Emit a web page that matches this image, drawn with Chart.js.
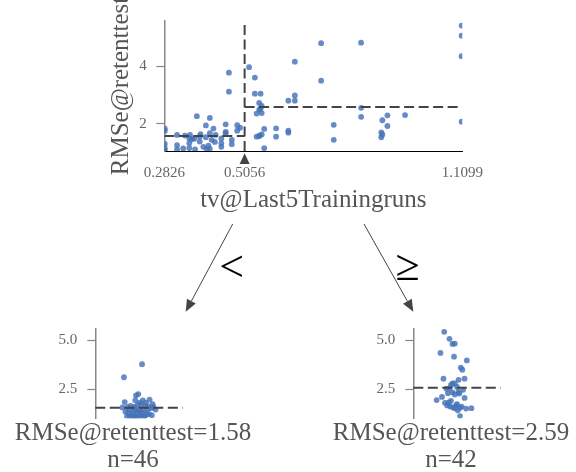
<!DOCTYPE html>
<html>
<head>
<meta charset="utf-8">
<script src="https://cdn.jsdelivr.net/npm/chart.js@4/dist/chart.umd.min.js"></script>
<style>
  html, body { margin:0; padding:0; background:#fff; }
  body { width:576px; height:472px; position:relative; overflow:hidden; }
  canvas { position:absolute; }
  svg { position:absolute; left:0; top:0; pointer-events:none; }
</style>
</head>
<body>
<canvas id="top" width="576" height="215" style="left:0;top:0"></canvas>
<canvas id="leafL" width="290" height="164" style="left:0;top:310px"></canvas>
<canvas id="leafR" width="258" height="164" style="left:318.4px;top:310px"></canvas>
<svg id="arrows" width="576" height="472"></svg>
<script>
// ---------- data ----------
const featureName = 'tv@Last5Trainingruns';
const targetName = 'RMSe@retenttest';
const splitValue = 0.5056;
const xTicks = [0.2826, 0.5056, 1.1099];
const xTickLabels = ['0.2826', '0.5056', '1.1099'];
const yTicksTop = [2, 4];
const yTickLabelsTop = ['2', '4'];
const leafTicks = [2.5, 5.0];
const leafTickLabels = ['2.5', '5.0'];
const leftMean = 1.58, rightMean = 2.59;
const leftN = 46, rightN = 42;
const yMinTop = 1.064, yMaxTop = 5.57;
const yMinLeaf = 1.05, yMaxLeaf = 5.555;

// samples going left (feature < split)
const leftX = [0.462,0.462,0.373,0.409,0.398,0.453,0.485,0.493,0.485,0.453,
               0.453,0.419,0.409,0.383,0.354,0.318,0.284,0.284,0.366,0.359,
               0.352,0.381,0.398,0.414,0.423,0.441,0.441,0.441,0.352,0.318,
               0.318,0.284,0.284,0.352,0.368,0.391,0.400,0.409,0.284,0.381,
               0.340,0.425,0.470,0.335,0.405,0.470];
const leftY = [3.78,3.12,2.27,2.21,1.95,1.99,1.96,1.87,1.77,1.73,
               1.68,1.84,1.68,1.65,1.62,1.62,1.84,1.76,1.49,1.47,
               1.50,1.56,1.54,1.45,1.38,1.50,1.33,1.21,1.33,1.27,
               1.12,1.31,1.16,1.16,1.12,1.21,1.14,1.14,1.08,1.39,
               1.60,1.62,1.45,1.15,1.25,1.30];
const leftJitter = [0.62,0.38,0.57,0.54,0.63,0.72,0.53,0.39,0.76,0.56,
                    0.66,0.59,0.47,0.70,0.52,0.43,0.67,0.61,0.80,0.45,
                    0.58,0.74,0.50,0.64,0.40,0.69,0.55,0.48,0.62,0.71,
                    0.53,0.44,0.60,0.66,0.46,0.75,0.57,0.64,0.51,0.59,
                    0.36,0.77,0.53,0.42,0.68,0.50];

// samples going right (feature >= split)
const rightX = [0.518,0.534,0.534,0.550,0.546,0.553,0.550,0.546,0.539,0.553,
                0.560,0.539,0.546,0.553,0.560,0.593,0.593,0.627,0.645,0.645,
                0.645,0.627,0.627,0.718,0.718,0.753,0.753,0.829,0.829,0.829,
                0.888,0.902,0.902,0.885,0.888,0.885,0.951,1.108,1.108,1.108,
                1.108,0.547];
const rightY = [3.97,3.61,3.05,3.05,2.73,2.63,2.54,2.49,2.36,2.38,
                1.83,1.56,1.58,1.64,1.16,1.85,1.56,2.81,2.81,2.99,
                4.16,1.77,1.70,4.80,3.50,1.97,1.45,4.82,2.56,2.25,
                2.13,2.30,1.93,1.71,1.64,1.54,2.31,5.41,5.06,4.35,
                2.08,1.60];
const rightJitter = [0.71,0.63,0.40,0.68,0.50,0.58,0.44,0.66,0.52,0.60,
                     0.42,0.55,0.62,0.49,0.62,0.47,0.77,0.52,0.55,0.60,
                     0.54,0.58,0.45,0.52,0.65,0.31,0.59,0.55,0.48,0.55,
                     0.38,0.61,0.50,0.57,0.64,0.70,0.46,0.41,0.48,0.36,
                     0.68,0.53];

// ---------- style ----------
const FONT = 'Liberation Serif';
const PT_COLOR = 'rgba(68,114,186,0.82)';
const DASH_COLOR = '#444';
const TICK_COLOR = '#666';
const TITLE_COLOR = '#555';
const SPINE_COLOR = '#888';

Chart.defaults.font.family = FONT;

const zip = (xs, ys) => xs.map((x, i) => ({x, y: ys[i]}));
const fixedTicks = (vals) => (scale) => { scale.ticks = vals.map(v => ({value: v})); };

const dashed = (data, extra) => Object.assign({
  type: 'line', data, borderColor: DASH_COLOR, borderWidth: 2, borderDash: [10, 4.5],
  pointRadius: 0, fill: false, tension: 0
}, extra || {});
const pointsDs = (data) => ({
  type: 'scatter', data, backgroundColor: PT_COLOR, borderWidth: 0, pointRadius: 2.9
});

const splitMarker = {
  id: 'splitMarker',
  afterDraw(chart) {
    const {ctx, chartArea, scales} = chart;
    const x = scales.x.getPixelForValue(splitValue);
    const yTop = chartArea.bottom + 2.3, yBase = chartArea.bottom + 13;
    ctx.save();
    ctx.fillStyle = DASH_COLOR;
    ctx.beginPath();
    ctx.moveTo(x, yTop); ctx.lineTo(x + 5, yBase); ctx.lineTo(x - 5, yBase); ctx.closePath();
    ctx.fill();
    ctx.restore();
  }
};

// leaf caption (stat + count), centred under the leaf's x scale, not width-limited
const leafCaption = {
  id: 'leafCaption',
  afterDraw(chart, args, opts) {
    const {ctx, scales} = chart;
    const sx = scales.x;
    const cx = (sx.left + sx.right) / 2;
    ctx.save();
    ctx.fillStyle = TITLE_COLOR;
    ctx.font = `${opts.size}px "${FONT}"`;
    ctx.textAlign = 'center';
    ctx.textBaseline = 'middle';
    opts.lines.forEach((t, i) => ctx.fillText(t, cx, opts.firstY + i * opts.lineStep));
    ctx.restore();
  }
};

// ---------- top (decision node) ----------
const topW = 576, topH = 215;
const plotL = 164.3, plotR = 462.3, plotT = 21, plotB = 151;
new Chart(document.getElementById('top'), {
  data: {
    datasets: [
      dashed([{x: splitValue, y: yMinTop}, {x: splitValue, y: yMaxTop}]),
      dashed([{x: xTicks[0], y: leftMean}, {x: splitValue, y: leftMean}]),
      dashed([{x: splitValue, y: rightMean}, {x: xTicks[2], y: rightMean}]),
      pointsDs(zip(leftX, leftY)),
      pointsDs(zip(rightX, rightY))
    ]
  },
  options: {
    responsive: false, animation: false, devicePixelRatio: 1,
    layout: {padding: {left: 0, top: plotT, right: topW - plotR, bottom: 0}},
    plugins: {legend: {display: false}, tooltip: {enabled: false}},
    scales: {
      x: {
        type: 'linear', min: xTicks[0], max: xTicks[2],
        afterBuildTicks: fixedTicks(xTicks),
        afterFit: s => { s.height = topH - plotB; },
        ticks: {autoSkip: false, maxRotation: 0, padding: 13, color: TICK_COLOR,
                font: {size: 15}, callback: (v, i) => xTickLabels[i]},
        grid: {display: true, drawOnChartArea: false, drawTicks: false},
        border: {display: true, color: '#000', width: 1},
        title: {display: true, text: featureName, color: TITLE_COLOR,
                font: {size: 25, lineHeight: 1.2}, padding: {top: 0, bottom: 0}}
      },
      y: {
        type: 'linear', min: yMinTop, max: yMaxTop,
        afterBuildTicks: fixedTicks(yTicksTop),
        afterFit: s => { s.width = plotL; },
        ticks: {padding: 9.6, color: TICK_COLOR, font: {size: 15},
                callback: (v, i) => yTickLabelsTop[i]},
        grid: {display: true, drawOnChartArea: false, drawTicks: true, tickLength: 8,
               tickColor: SPINE_COLOR, tickWidth: 1.2},
        border: {display: true, color: SPINE_COLOR, width: 1.5},
        title: {display: true, text: targetName, color: TITLE_COLOR,
                font: {size: 25, lineHeight: 1.2}, padding: {top: 106, bottom: 0}}
      }
    }
  },
  plugins: [splitMarker]
});

// ---------- leaves ----------
const leafPlotL = 95.3, leafPlotR = 170.7, leafPlotT = 13.3, leafPlotB = 108.3, leafH = 164;
const leafDashEnd = 1.16;
function leaf(id, width, xs, ys, mean, n) {
  new Chart(document.getElementById(id), {
    data: {
      datasets: [
        dashed([{x: 0, y: mean}, {x: leafDashEnd, y: mean}], {clip: false}),
        pointsDs(zip(xs, ys))
      ]
    },
    options: {
      responsive: false, animation: false, devicePixelRatio: 1,
      layout: {padding: {left: 0, top: leafPlotT, right: width - leafPlotR, bottom: 0}},
      plugins: {
        legend: {display: false}, tooltip: {enabled: false},
        leafCaption: {lines: [targetName + '=' + mean.toFixed(2), 'n=' + n],
                      size: 25, firstY: 123.5, lineStep: 27}
      },
      scales: {
        x: {
          type: 'linear', min: 0, max: 1,
          afterFit: s => { s.height = leafH - leafPlotB; },
          ticks: {display: false},
          grid: {display: false},
          border: {display: false},
          title: {display: false}
        },
        y: {
          type: 'linear', min: yMinLeaf, max: yMaxLeaf,
          afterBuildTicks: fixedTicks(leafTicks),
          afterFit: s => { s.width = leafPlotL; },
          ticks: {padding: 10, color: TICK_COLOR, font: {size: 15},
                  callback: (v, i) => leafTickLabels[i]},
          grid: {display: true, drawOnChartArea: false, drawTicks: true, tickLength: 8,
                 tickColor: SPINE_COLOR, tickWidth: 1.2},
          border: {display: true, color: SPINE_COLOR, width: 1.5}
        }
      }
    },
    plugins: [leafCaption]
  });
}
leaf('leafL', 290, leftJitter, leftY, leftMean, leftN);
leaf('leafR', 258, rightJitter, rightY, rightMean, rightN);

// ---------- edges ----------
const svg = document.getElementById('arrows');
const NS = 'http://www.w3.org/2000/svg';
function arrow(x1, y1, x2, y2) {
  const dx = x2 - x1, dy = y2 - y1, L = Math.hypot(dx, dy);
  const ux = dx / L, uy = dy / L, hl = 12, hw = 5;
  const bx = x2 - ux * hl, by = y2 - uy * hl;
  const line = document.createElementNS(NS, 'line');
  line.setAttribute('x1', x1); line.setAttribute('y1', y1);
  line.setAttribute('x2', bx); line.setAttribute('y2', by);
  line.setAttribute('stroke', DASH_COLOR); line.setAttribute('stroke-width', 1);
  svg.appendChild(line);
  const head = document.createElementNS(NS, 'polygon');
  head.setAttribute('points', `${x2},${y2} ${bx - uy * hw},${by + ux * hw} ${bx + uy * hw},${by - ux * hw}`);
  head.setAttribute('fill', DASH_COLOR);
  svg.appendChild(head);
}
function label(txt, x, y) {
  const t = document.createElementNS(NS, 'text');
  t.setAttribute('x', x); t.setAttribute('y', y);
  t.setAttribute('text-anchor', 'middle');
  t.setAttribute('font-family', FONT);
  t.setAttribute('font-size', 44);
  t.setAttribute('fill', '#000');
  t.textContent = txt;
  svg.appendChild(t);
}
arrow(232.7, 224, 185.7, 311.7);
arrow(364, 224, 413.3, 311.7);
label('<', 231.7, 281);
label('\u2265', 407.5, 280);
</script>
</body>
</html>
